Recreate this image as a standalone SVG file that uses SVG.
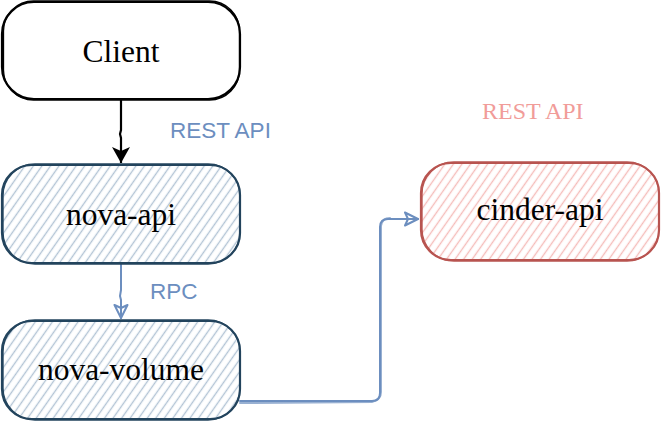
<svg xmlns="http://www.w3.org/2000/svg" width="662" height="422" viewBox="0 0 662 422">
<style>
.lbl{font-family:"Liberation Serif","Times New Roman",serif;font-size:31.5px;fill:#000;text-anchor:middle}
.blueTxt{font-family:"Liberation Sans",Arial,sans-serif;font-size:22.5px;fill:#6c8ebf}
.redTxt{font-family:"Liberation Serif","Times New Roman",serif;font-size:24px;fill:#f19c99}
.edge{fill:none;stroke:#6c8ebf;stroke-width:2;stroke-linejoin:round;stroke-linecap:round}
.blueBox{fill:url(#hatchBlue);stroke:#23445d;stroke-width:2.2}
.redBox{fill:url(#hatchRed);stroke:#b85450;stroke-width:2.2}
.sketch{fill:none;stroke-width:1.3}
</style>
<defs>
<pattern id="hatchBlue" width="7" height="8" patternUnits="userSpaceOnUse" patternTransform="rotate(35)">
<line x1="3.5" y1="0" x2="3.5" y2="8" stroke="#b3c4d5" stroke-width="1.4"/>
</pattern>
<pattern id="hatchRed" width="7" height="8" patternUnits="userSpaceOnUse" patternTransform="rotate(35)">
<line x1="3.5" y1="0" x2="3.5" y2="8" stroke="#f5bdba" stroke-width="1.4"/>
</pattern>
<marker id="blackArrow" viewBox="0 0 16 18" refX="16" refY="9" markerWidth="16" markerHeight="18" markerUnits="userSpaceOnUse" orient="auto">
<path d="M0,0 L16,9 L0,18 L4,9 Z" fill="#000"/>
</marker>
<marker id="openArrow" viewBox="0 0 16 16" refX="14" refY="8" markerWidth="16" markerHeight="16" markerUnits="userSpaceOnUse" orient="auto">
<path d="M1,1.5 L14,8 L1,14.5 L4,8 Z" fill="none" stroke="#6c8ebf" stroke-width="2" stroke-linejoin="round"/>
</marker>
</defs>
<rect width="662" height="422" fill="#fff"/>

<g id="connectors">
<path id="e-client-novaapi" d="M121,99 L121,130 L120,134 L121,138 L121,163" fill="none" stroke="#000" stroke-width="2.2" marker-end="url(#blackArrow)"/>
<path id="e-novaapi-novavolume" class="edge" d="M121,264 L121,290 L120,296 L121,300 L121,318" marker-end="url(#openArrow)"/>
<path id="e-novavolume-cinder" class="edge" d="M240,401 L372,401 Q380,401 380,393 L380,227 Q380,219 388,219 L418,219" marker-end="url(#openArrow)"/>
<path class="edge" d="M240,403 L372,402 Q381,400 381,392 L381,226 Q382,218 390,218" stroke-width="1" opacity="0.7"/>
</g>

<g id="client">
<rect x="2" y="2" width="238" height="97" rx="32" ry="32" fill="#fff" stroke="#000" stroke-width="2.2"/>
<rect x="3.5" y="1" width="236" height="99" rx="30" ry="30" class="sketch" stroke="#000"/>
<text class="lbl" x="121" y="62">Client</text>
</g>

<g id="nova-api">
<rect x="2" y="165" width="238" height="98" rx="30" ry="30" class="blueBox"/>
<rect x="3" y="164" width="237" height="100" rx="32" ry="32" class="sketch" stroke="#23445d"/>
<text class="lbl" x="121" y="225">nova-api</text>
</g>

<g id="nova-volume">
<rect x="2" y="321" width="238" height="98" rx="30" ry="30" class="blueBox"/>
<rect x="3" y="320" width="237" height="100" rx="32" ry="32" class="sketch" stroke="#23445d"/>
<text class="lbl" x="121" y="380">nova-volume</text>
</g>

<g id="cinder-api">
<rect x="421" y="163" width="238" height="97" rx="30" ry="30" class="redBox"/>
<rect x="422" y="162" width="237" height="99" rx="32" ry="32" class="sketch" stroke="#b85450"/>
<text class="lbl" x="540" y="220">cinder-api</text>
</g>

<g id="labels">
<text class="blueTxt" x="170" y="138">REST API</text>
<text class="blueTxt" x="150" y="299">RPC</text>
<text class="redTxt" x="482" y="119">REST API</text>
</g>
</svg>
